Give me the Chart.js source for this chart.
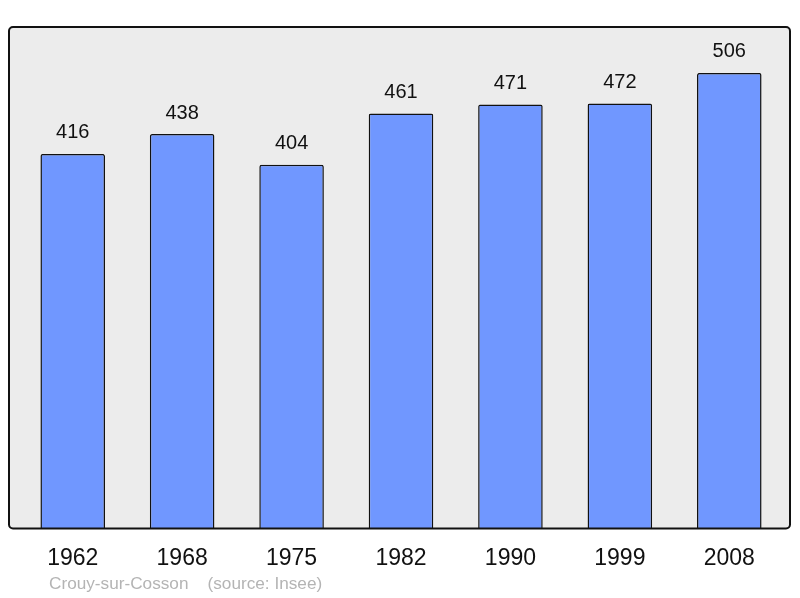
<!DOCTYPE html>
<html>
<head>
<meta charset="utf-8">
<script src="https://cdn.jsdelivr.net/npm/chart.js@4/dist/chart.umd.min.js"></script>
<style>
  html, body { margin: 0; padding: 0; background: #fff; }
  #wrap { width: 800px; height: 598px; }
</style>
</head>
<body>
<div id="wrap"><canvas id="pop"></canvas></div>
<script>
// années et population
const years = ['1962', '1968', '1975', '1982', '1990', '1999', '2008'];
const population = [416, 438, 404, 461, 471, 472, 506];
const footerText = 'Crouy-sur-Cosson    (source: Insee)';

// fond gris + cadre arrondi autour de la zone du graphique
const framePlugin = {
  id: 'frame',
  beforeDraw: (chart) => {
    const { ctx, chartArea } = chart;
    const x = chartArea.left - 9, y = chartArea.top;
    const w = chartArea.right - chartArea.left + 15, h = chartArea.bottom - chartArea.top;
    ctx.save();
    ctx.beginPath();
    ctx.roundRect(x, y, w, h, 4);
    ctx.fillStyle = '#ececec';
    ctx.fill();
    ctx.restore();
  },
  afterDatasetsDraw: (chart) => {
    const { ctx, chartArea } = chart;
    const x = chartArea.left - 9, y = chartArea.top;
    const w = chartArea.right - chartArea.left + 15, h = chartArea.bottom - chartArea.top;
    ctx.save();
    ctx.beginPath();
    ctx.roundRect(x, y, w, h, 4);
    ctx.lineWidth = 2;
    ctx.strokeStyle = '#111';
    ctx.stroke();

    // valeurs au-dessus des barres
    ctx.font = '20px "Liberation Sans", Arial, sans-serif';
    ctx.fillStyle = '#111';
    ctx.textAlign = 'center';
    ctx.textBaseline = 'middle';
    chart.getDatasetMeta(0).data.forEach((bar, i) => {
      ctx.fillText(population[i], bar.x, bar.y - 21);
    });

    // source
    ctx.font = '17.2px "Liberation Sans", Arial, sans-serif';
    ctx.fillStyle = '#b4b4b4';
    ctx.textAlign = 'left';
    ctx.fillText(footerText, 49, 584);
    ctx.restore();
  },
};

new Chart(document.getElementById('pop'), {
  type: 'bar',
  data: {
    labels: years,
    datasets: [{
      data: population,
      backgroundColor: '#7097ff',
      borderColor: '#111',
      borderWidth: 1.5,
      borderRadius: 2,
      borderSkipped: 'bottom',
      categoryPercentage: 1,
      barPercentage: 0.59,
    }],
  },
  options: {
    responsive: true,
    maintainAspectRatio: false,
    animation: false,
    layout: { padding: { top: 27, left: 18, right: 16, bottom: 10 } },
    plugins: {
      legend: { display: false },
      tooltip: { enabled: false },
    },
    scales: {
      x: {
        grid: { display: false, drawTicks: false },
        border: { display: false },
        ticks: {
          padding: 16,
          color: '#111',
          font: { family: '"Liberation Sans", Arial, sans-serif', size: 23 },
        },
      },
      y: {
        display: false,
        min: 0,
        max: 557,
      },
    },
  },
  plugins: [framePlugin],
});
</script>
</body>
</html>
